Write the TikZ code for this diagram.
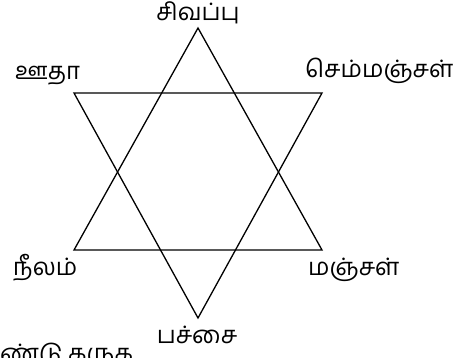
\documentclass[tikz,border=0pt]{standalone}
\usepackage{fontspec}
\newfontfamily\tamilfont[Script=Tamil]{Hind Madurai}
\usepackage{tikz}
\usetikzlibrary{calc,positioning}
\tikzset{
  nira/.style={
    inner sep=0pt,
    font=\tamilfont\fontsize{24}{28}\selectfont
  },
  kodu/.style={
    line width=1.3pt,
    black,
    line join=miter
  }
}
\begin{document}
\begin{tikzpicture}[x=1pt,y=-1pt]
\useasboundingbox (0,0) rectangle (455,358);
% vertices of the star
\coordinate (mel) at (198,28);
\coordinate (keezh) at (198,318);
\coordinate (melidam) at (74,93);
\coordinate (melvalam) at (322,93);
\coordinate (keezhidam) at (74,250);
\coordinate (keezhvalam) at (322,250);
\draw[kodu] (mel) -- (keezhvalam) -- (keezhidam) -- cycle;
\draw[kodu] (keezh) -- (melidam) -- (melvalam) -- cycle;
% colour names
\node[nira, anchor=base] (sivappu) at (198,21) {சிவப்பு};
\node[nira, anchor=base west] (utha) at (15,80) {ஊதா};
\node[nira, anchor=base west] (semmanjal) at (305,78) {செம்மஞ்சள்};
\node[nira, anchor=base west] (neelam) at (13,275) {நீலம்};
\node[nira, anchor=base west] (manjal) at (308,275) {மஞ்சள்};
\node[nira, anchor=base] (pachai) at (197,343) {பச்சை};
\node[nira, anchor=north west] (adi) at (0,343) {ண்டு கருக};
\end{tikzpicture}
\end{document}
